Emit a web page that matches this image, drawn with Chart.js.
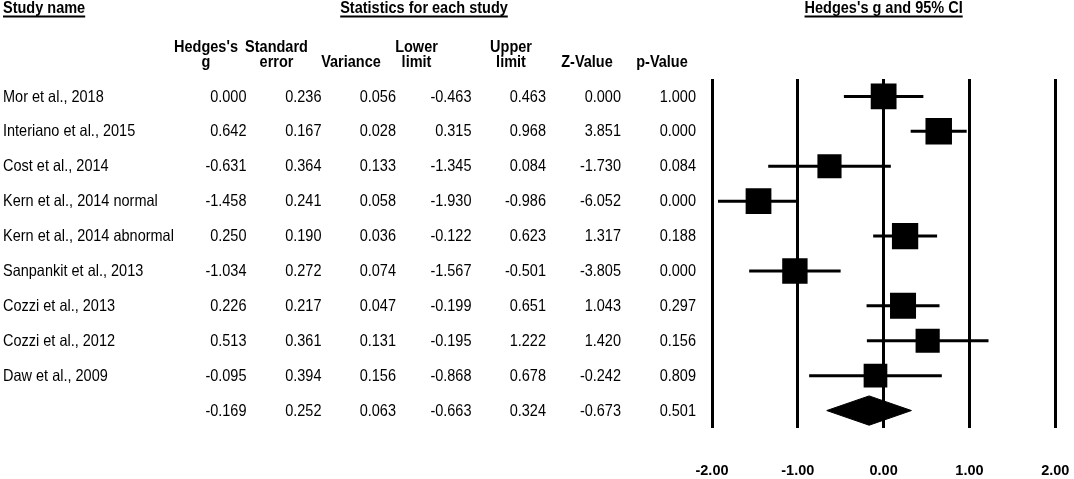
<!DOCTYPE html>
<html>
<head>
<meta charset="utf-8">
<script src="https://cdn.jsdelivr.net/npm/chart.js@4.4.1/dist/chart.umd.min.js"></script>
<style>
html,body{margin:0;padding:0;background:#ffffff;}
#wrap{width:1074px;height:479px;position:relative;}
</style>
</head>
<body>
<div id="wrap"><canvas id="c" width="1074" height="479"></canvas></div>
<script>
// ---------- data ----------
const studies = [
  'Mor et al., 2018',
  'Interiano et al., 2015',
  'Cost et al., 2014',
  'Kern et al., 2014 normal',
  'Kern et al., 2014 abnormal',
  'Sanpankit et al., 2013',
  'Cozzi et al., 2013',
  'Cozzi et al., 2012',
  'Daw et al., 2009'
];
const hedgesG    = [0.000, 0.642, -0.631, -1.458, 0.250, -1.034, 0.226, 0.513, -0.095];
const stdError   = [0.236, 0.167, 0.364, 0.241, 0.190, 0.272, 0.217, 0.361, 0.394];
const variance   = [0.056, 0.028, 0.133, 0.058, 0.036, 0.074, 0.047, 0.131, 0.156];
const lowerLimit = [-0.463, 0.315, -1.345, -1.930, -0.122, -1.567, -0.199, -0.195, -0.868];
const upperLimit = [0.463, 0.968, 0.084, -0.986, 0.623, -0.501, 0.651, 1.222, 0.678];
const zValue     = [0.000, 3.851, -1.730, -6.052, 1.317, -3.805, 1.043, 1.420, -0.242];
const pValue     = [1.000, 0.000, 0.084, 0.000, 0.188, 0.000, 0.297, 0.156, 0.809];

const summaryG = -0.169;
const summarySE = 0.252;
const summaryVar = 0.063;
const summaryLower = -0.663;
const summaryUpper = 0.324;
const summaryZ = -0.673;
const summaryP = 0.501;

const tickValues = [-2, -1, 0, 1, 2];
const tickLabels = ['-2.00', '-1.00', '0.00', '1.00', '2.00'];

// ---------- style ----------
const FONT = '"Liberation Sans", Arial, Helvetica, sans-serif';
const FS = 14.5;
const VS = 1.15;            // vertical stretch of table text
const TAU2 = 0.48;          // between-study variance estimate used for box sizing
const MAX_SIDE = 26.5;      // px side of the largest box
const DIAMOND_HALF = 0.42;  // half-height of summary diamond, in row units

const nRows = studies.length;
const summaryRow = nRows;

const weights = variance.map(v => 1 / (v + TAU2));
const wMax = Math.max(...weights);
const boxRadius = weights.map(w => (MAX_SIDE * Math.sqrt(w / wMax)) / 2 / Math.SQRT1_2);

const datasets = [];
studies.forEach((s, i) => {
  datasets.push({
    label: s + ' CI',
    showLine: true,
    data: [{x: lowerLimit[i], y: i}, {x: upperLimit[i], y: i}],
    borderColor: '#000',
    borderWidth: 3,
    pointRadius: 0,
    fill: false
  });
});
datasets.push({
  label: 'boxes',
  data: hedgesG.map((g, i) => ({x: g, y: i})),
  pointStyle: 'rect',
  pointRadius: boxRadius,
  backgroundColor: '#000',
  borderColor: '#000',
  borderWidth: 0
});
datasets.push({
  label: 'summary',
  showLine: true,
  data: [
    {x: summaryLower, y: summaryRow},
    {x: summaryG, y: summaryRow - DIAMOND_HALF},
    {x: summaryUpper, y: summaryRow},
    {x: summaryG, y: summaryRow + DIAMOND_HALF},
    {x: summaryLower, y: summaryRow}
  ],
  borderColor: '#000',
  borderWidth: 1,
  backgroundColor: '#000',
  pointRadius: 0,
  fill: 'shape',
  tension: 0
});

function drawText(ctx, t, x, y, align) {
  ctx.save();
  ctx.translate(x, y);
  ctx.scale(1, VS);
  ctx.textAlign = align;
  ctx.fillText(t, 0, 0);
  ctx.restore();
}

const tablePlugin = {
  id: 'forestTable',
  afterDraw(chart) {
    const ctx = chart.ctx;
    const ys = chart.scales.y;
    const xs = chart.scales.x;
    ctx.save();
    ctx.fillStyle = '#000';
    ctx.strokeStyle = '#000';

    // top headings (bold, underlined)
    ctx.font = 'bold ' + FS + 'px ' + FONT;
    ctx.textBaseline = 'alphabetic';
    const headings = [
      {t: 'Study name', x: 3, align: 'left'},
      {t: 'Statistics for each study', x: 424, align: 'center'},
      {t: "Hedges's g and 95% CI", x: xs.getPixelForValue(0), align: 'center'}
    ];
    headings.forEach(h => {
      drawText(ctx, h.t, h.x, 12.5, h.align);
      const w = ctx.measureText(h.t).width;
      const x0 = h.align === 'left' ? h.x : h.x - w / 2;
      ctx.lineWidth = 2;
      ctx.beginPath();
      ctx.moveTo(x0, 16.5);
      ctx.lineTo(x0 + w, 16.5);
      ctx.stroke();
    });

    // column headers
    const colHeads = [
      ["Hedges's", 'g', 206],
      ['Standard', 'error', 276.5],
      ['', 'Variance', 351],
      ['Lower', 'limit', 416.5],
      ['Upper', 'limit', 511],
      ['', 'Z-Value', 587],
      ['', 'p-Value', 662]
    ];
    colHeads.forEach(c => {
      if (c[0]) drawText(ctx, c[0], c[2], 51.5, 'center');
      drawText(ctx, c[1], c[2], 66.5, 'center');
    });

    // table body
    ctx.font = FS + 'px ' + FONT;
    ctx.textBaseline = 'middle';
    const cols = [
      {vals: hedgesG, s: summaryG, x: 246.5},
      {vals: stdError, s: summarySE, x: 321.5},
      {vals: variance, s: summaryVar, x: 396},
      {vals: lowerLimit, s: summaryLower, x: 471.5},
      {vals: upperLimit, s: summaryUpper, x: 546},
      {vals: zValue, s: summaryZ, x: 621},
      {vals: pValue, s: summaryP, x: 696}
    ];
    for (let i = 0; i <= nRows; i++) {
      const y = ys.getPixelForValue(i) + 0.5;
      if (i < nRows) drawText(ctx, studies[i], 3, y, 'left');
      cols.forEach(c => {
        const v = i < nRows ? c.vals[i] : c.s;
        drawText(ctx, v.toFixed(3), c.x, y, 'right');
      });
    }
    ctx.restore();
  }
};

new Chart(document.getElementById('c'), {
  type: 'scatter',
  data: {datasets},
  options: {
    responsive: false,
    animation: false,
    devicePixelRatio: 1,
    layout: {padding: {left: 712, right: 17, top: 79, bottom: 0.5}},
    plugins: {legend: {display: false}, tooltip: {enabled: false}},
    scales: {
      x: {
        type: 'linear',
        min: -2,
        max: 2,
        afterBuildTicks: (scale) => { scale.ticks = tickValues.map(v => ({value: v})); },
        ticks: {
          callback: (v) => tickLabels[tickValues.indexOf(v)],
          color: '#000',
          font: {family: FONT, size: FS, weight: 'bold', lineHeight: 1},
          padding: 0,
          maxRotation: 0,
          autoSkip: false
        },
        grid: {color: '#000', lineWidth: 3, drawTicks: true, tickLength: 36, tickColor: 'rgba(0,0,0,0)'},
        border: {display: false}
      },
      y: {
        type: 'linear',
        min: -0.5,
        max: 9.5,
        reverse: true,
        display: false
      }
    }
  },
  plugins: [tablePlugin]
});
</script>
</body>
</html>
